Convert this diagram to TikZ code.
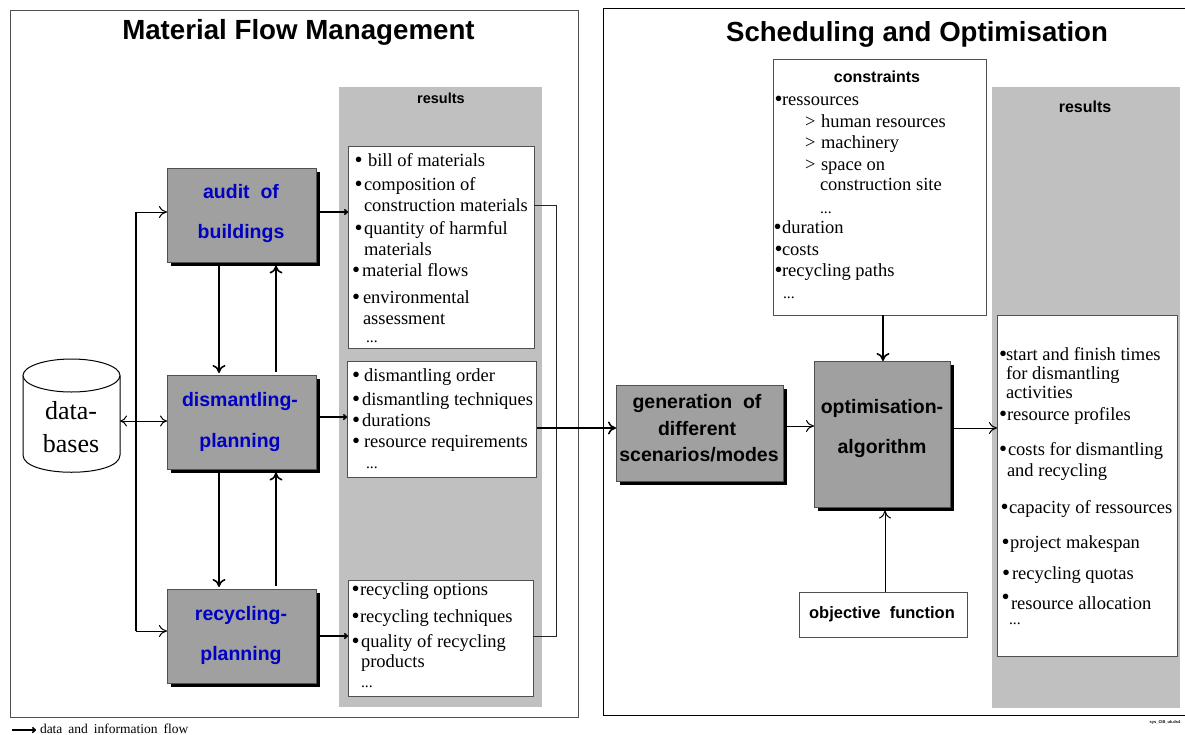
\documentclass[tikz,border=0pt]{standalone}
\usepackage{fontspec}
\setmainfont{Liberation Serif}
\newfontfamily\arialf{Liberation Sans}
\usetikzlibrary{arrows.meta,shadows,calc}
\definecolor{resgrey}{HTML}{C0C0C0}
\definecolor{boxgrey}{HTML}{A0A0A0}
\definecolor{boxblue}{HTML}{0000C0}
\definecolor{edgegrey}{HTML}{505050}
\newcounter{tln}
\newcommand{\fs}[1]{\fontsize{#1}{#1}\selectfont}
\newcommand{\tl}[3]{\stepcounter{tln}\node[bodytext] (t\arabic{tln}) at (#1,#2) {#3};}
\newcommand{\dl}[3]{\stepcounter{tln}\node[dottext] (t\arabic{tln}) at (#1,#2) {#3};}
\newcommand{\el}[2]{\stepcounter{tln}\node[bodytext,font=\fs{15.5}] (t\arabic{tln}) at (#1,#2) {...};}
\newcommand{\bl}[3]{\stepcounter{tln}\node[boxlabel,text=boxblue] (t\arabic{tln}) at (#1,#2) {#3};}
\newcommand{\kl}[3]{\stepcounter{tln}\node[boxlabel] (t\arabic{tln}) at (#1,#2) {#3};}
\tikzset{
  x=1pt,y=-1pt,
  bodytext/.style={anchor=base west,inner sep=0pt,outer sep=0pt,font=\fs{18.5}},
  dottext/.style={anchor=base west,inner sep=0pt,outer sep=0pt,font=\fs{23},yshift=-1.7pt},
  boxlabel/.style={anchor=base,inner sep=0pt,outer sep=0pt,font=\arialf\bfseries\fs{19.5}},
  whitebox/.style={draw=edgegrey,fill=white,line width=1pt,anchor=north west,inner sep=0pt,outer sep=0pt},
  procbox/.style={draw=edgegrey,fill=boxgrey,line width=1pt,anchor=north west,inner sep=0pt,outer sep=0pt,
    drop shadow={shadow xshift=3.5pt,shadow yshift=-3.5pt,fill=black,opacity=1}},
  ln/.style={line width=1.6pt,black},
  thinln/.style={line width=0.9pt,black!85},
  arr/.style={line width=1.6pt,black,-{Computer Modern Rightarrow[length=8pt,width=13pt]}},
  arrsmall/.style={line width=1.6pt,black,-{Computer Modern Rightarrow[length=4pt,width=6pt]}},
  arrthin/.style={line width=1pt,black,-{Computer Modern Rightarrow[length=8pt,width=12pt]}},
  arrboth/.style={line width=1pt,black,{Computer Modern Rightarrow[length=7pt,width=11pt]}-{Computer Modern Rightarrow[length=7pt,width=11pt]}},
}
\begin{document}
\begin{tikzpicture}
\useasboundingbox (0,0) rectangle (1185,734);
\fill[white] (0,0) rectangle (1185,734);
% panels
\draw[line width=1pt,edgegrey] (10,10) rectangle (578,717);
\draw[line width=1pt,black] (1185,8) -- (603,8) -- (603,715) -- (1185,715);
\fill[resgrey] (339,87) rectangle (542,707);
\fill[resgrey] (992,87) rectangle (1180,708);
% titles
\node[boxlabel,font=\arialf\bfseries\fs{27.7}] (title1) at (298.5,39) {Material Flow Management};
\node[boxlabel,font=\arialf\bfseries\fs{27.6}] (title2) at (917,41) {Scheduling and Optimisation};
\node[boxlabel,font=\arialf\bfseries\fs{14.5}] (res1) at (441,103) {results};
\node[boxlabel,font=\arialf\bfseries\fs{16}] (res2) at (1085,112) {results};
% process boxes
\node[procbox,minimum width=149pt,minimum height=94pt] (audit) at (167,168) {};
\node[procbox,minimum width=149pt,minimum height=94pt] (dism) at (167,375) {};
\node[procbox,minimum width=149pt,minimum height=94pt] (rec) at (167,589) {};
\node[procbox,minimum width=167pt,minimum height=96pt] (gen) at (616,385) {};
\node[procbox,minimum width=136pt,minimum height=146pt] (opt) at (814,361) {};
% white boxes
\node[whitebox,minimum width=186pt,minimum height=202pt] (box1) at (348,146) {};
\node[whitebox,minimum width=189pt,minimum height=116pt] (box2) at (347,361) {};
\node[whitebox,minimum width=185pt,minimum height=116pt] (box3) at (348,580) {};
\node[whitebox,minimum width=213pt,minimum height=256pt] (cons) at (773,59) {};
\node[whitebox,minimum width=180pt,minimum height=341pt] (box4) at (997,315) {};
\node[whitebox,minimum width=168pt,minimum height=45pt] (obj) at (799,592) {};
% database
\node[anchor=north west,minimum width=97pt,minimum height=113pt,inner sep=0pt,outer sep=0pt] (db) at (23,359) {};
\draw[line width=1pt,fill=white] (db.north west) ++(0,16.5) -- (23,455) .. controls (23,478) and (120,478) .. (120,455) -- (120,375.5);
\draw[line width=1pt,fill=white] (71.5,375.5) ellipse [x radius=48.5pt,y radius=16.5pt];
\node[boxlabel,font=\fs{26}] (dbt1) at (71,419) {data-};
\node[boxlabel,font=\fs{26}] (dbt2) at (71,452) {bases};
% box labels
\bl{241}{198}{audit\ \ of}
\bl{241}{238}{buildings}
\bl{240}{406}{dismantling-}
\bl{240}{447}{planning}
\bl{241}{620}{recycling-}
\bl{241}{660}{planning}
\kl{697}{408}{generation\ \ of}
\kl{697}{435}{different}
\kl{699}{461}{scenarios/modes}
\kl{882}{413}{optimisation-}
\kl{882}{453}{algorithm}
\node[boxlabel,font=\arialf\bfseries\fs{16.5}] (objt) at (882,618) {objective\ \ function};
\node[boxlabel,font=\arialf\bfseries\fs{16}] (const) at (877,82) {constraints};
% box 1
\dl{354.5}{166}{•}\tl{368}{166}{bill of materials}
\dl{354.5}{190}{•}\tl{364}{190}{composition of}
\tl{364}{211}{construction materials}
\dl{354.5}{234}{•}\tl{364}{234}{quantity of harmful}
\tl{364}{255}{materials}
\dl{352}{276}{•}\tl{362}{276}{material flows}
\dl{352}{303}{•}\tl{363}{303}{environmental}
\tl{363}{324}{assessment}
\el{366}{342}
% box 2
\dl{352}{381}{•}\tl{364}{381}{dismantling order}
\dl{352}{405}{•}\tl{362}{405}{dismantling techniques}
\dl{352}{426}{•}\tl{362}{426}{durations}
\dl{352}{447}{•}\tl{364}{447}{resource requirements}
\el{366}{468}
% box 3
\dl{351.5}{595}{•}\tl{360}{595}{recycling options}
\dl{351.5}{622}{•}\tl{360}{622}{recycling techniques}
\dl{351.5}{647}{•}\tl{361}{647}{quality of recycling}
\tl{361}{667}{products}
\el{361}{687}
% constraints
\dl{774.5}{105}{•}\tl{782}{105}{ressources}
\tl{805}{127}{>}\tl{821}{127}{human resources}
\tl{805}{148}{>}\tl{821}{148}{machinery}
\tl{805}{170}{>}\tl{821}{170}{space on}
\tl{820}{190}{construction site}
\el{820}{213}
\dl{773.5}{233}{•}\tl{782}{233}{duration}
\dl{774.5}{255}{•}\tl{782}{255}{costs}
\dl{774.5}{276}{•}\tl{782}{276}{recycling paths}
\el{783}{298}
% right results
\dl{999}{360}{•}\tl{1006}{360}{start and finish times}
\tl{1006}{379}{for dismantling}
\tl{1006}{398}{activities}
\dl{999}{420}{•}\tl{1007}{420}{resource profiles}
\dl{999}{455}{•}\tl{1008}{455}{costs for dismantling}
\tl{1007}{476}{and recycling}
\dl{1000.5}{513}{•}\tl{1009}{513}{capacity of ressources}
\dl{1001.5}{548}{•}\tl{1010}{548}{project makespan}
\dl{1002}{579}{•}\tl{1012}{579}{recycling quotas}
\dl{1001.5}{603}{•}\tl{1011}{609}{resource allocation}
\el{1009}{624}
% connectors: bus and database
\coordinate (bt) at (136,212);
\coordinate (bb) at (136,631);
\draw[ln] (bt) -- (bb);
\draw[arrthin] (bt) -- (bt -| audit.west);
\draw[arrthin] (bb) -- (bb -| rec.west);
\draw[arrboth] ([yshift=-5.5pt]db.east) -- ([yshift=-5.5pt]db.east -| dism.west);
% connectors: vertical
\draw[arr] ([xshift=-22.5pt,yshift=-3.5pt]audit.south) -- ([xshift=-22.5pt,yshift=2pt]dism.north);
\draw[arr] ([xshift=34.5pt,yshift=3pt]dism.north) -- ([xshift=34.5pt,yshift=-3.5pt]audit.south);
\draw[arr] ([xshift=-22.5pt,yshift=-3.5pt]dism.south) -- ([xshift=-22.5pt,yshift=2pt]rec.north);
\draw[arr] ([xshift=34.5pt,yshift=3pt]rec.north) -- ([xshift=34.5pt,yshift=-3.5pt]dism.south);
% connectors: to results
\coordinate (o1) at (319.5,212);
\coordinate (o2) at (319.5,417);
\coordinate (o3) at (319.5,636);
\draw[arrsmall] (o1) -- (o1 -| box1.west);
\draw[arrsmall] (o2) -- (o2 -| box2.west);
\draw[arrsmall] (o3) -- (o3 -| box3.west);
% connectors: collection bracket
\coordinate (k1) at (556,205);
\coordinate (k2) at (556,636);
\draw[thinln] (k1 -| box1.east) -- (k1) -- (k2) -- (k2 -| box3.east);
% connectors: right panel
\coordinate (m2) at (537,428);
\draw[arr] (m2) -- (m2 -| gen.west);
\coordinate (g1) at (786.5,426);
\draw[arrthin] (g1) -- (g1 -| opt.west);
\coordinate (p1) at (953.5,428);
\draw[arrthin] (p1) -- (p1 -| box4.west);
\draw[arr] (883,315) coordinate (c1) -- (c1 |- opt.north);
\coordinate (f1) at (885,592);
\draw[arrthin] (f1) -- (885,510.5);
% legend
\coordinate (l1) at (12,730);
\coordinate (l2) at (36,730);
\draw[arrsmall] (l1) -- (l2);
\node[anchor=base west,inner sep=0pt,outer sep=0pt,font=\fs{13.5}] (legend) at (40,733) {data\hspace{6pt}and\hspace{6pt}information\hspace{6pt}flow};
\node[anchor=base,inner sep=0pt,outer sep=0pt,font=\arialf\bfseries\fs{4}] (stamp) at (1165,723) {sys\_CIB\_uk.ds4};
\end{tikzpicture}
\end{document}
